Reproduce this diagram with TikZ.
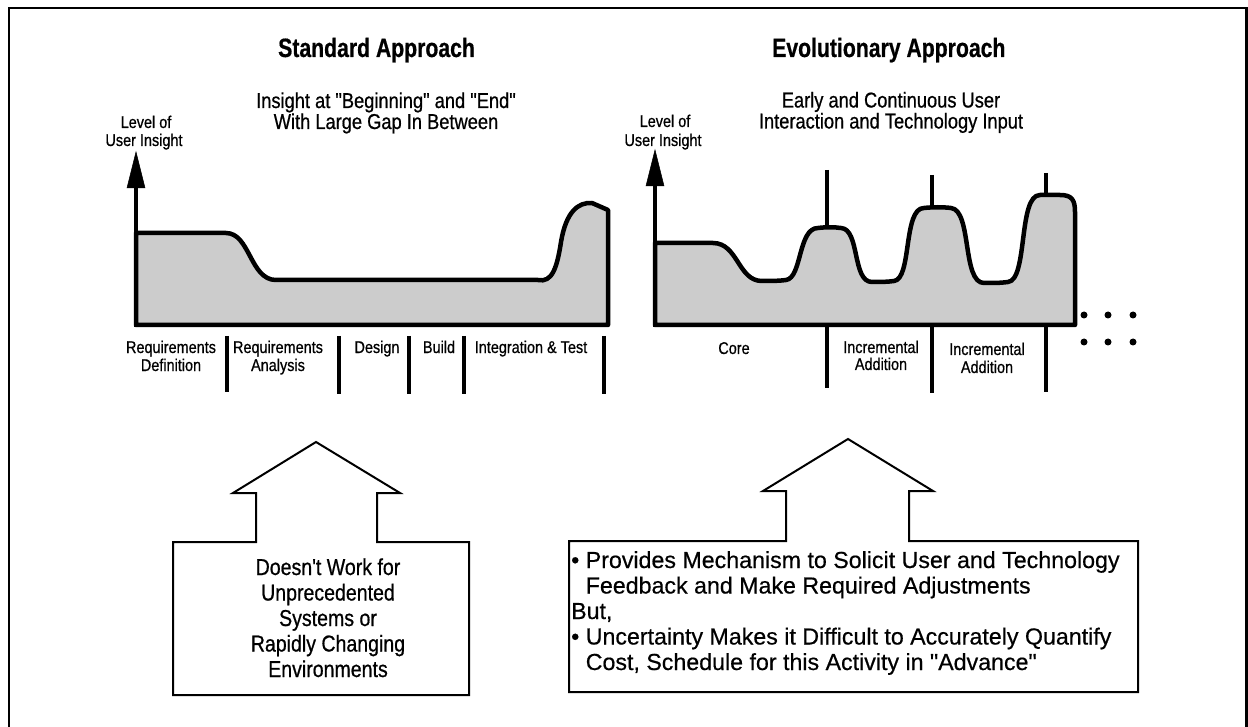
\documentclass[tikz,border=0pt]{standalone}
\usepackage{fontspec}
\setmainfont{Liberation Sans}
\newfontfamily\cnd{Liberation Sans}[FakeStretch=0.85,FakeBold=0.7]
\newfontfamily\cndb{Liberation Sans Bold}[FakeStretch=0.8,FakeBold=0.6]
\newfontfamily\reg{Liberation Sans}[FakeBold=0.5]
\begin{document}
\begin{tikzpicture}[x=1pt,y=-1pt,
  chart/.style={line width=4.5pt,fill=black!20,line join=round},
  axisline/.style={line width=3.5pt},
  arrowtip/.style={fill=black,draw=black,line width=0.5pt,line join=miter},
  divider/.style={line width=4pt},
  house/.style={line width=2pt,line join=miter},
  frameline/.style={line width=2.5pt},
  dotmark/.style={circle,fill=black,inner sep=0,minimum size=7pt},
  txtitle/.style={inner sep=0,anchor=base west,font=\cndb\fontsize{26.5}{28}\selectfont},
  txsub/.style={inner sep=0,anchor=base,font=\cnd\fontsize{21.5}{22}\selectfont},
  txsmall/.style={inner sep=0,anchor=base,font=\cnd\fontsize{17}{17}\selectfont},
  txbig/.style={inner sep=0,anchor=base,font=\cnd\fontsize{23}{25}\selectfont},
  txplain/.style={inner sep=0,anchor=base west,font=\reg\fontsize{23.2}{25}\selectfont}]
\useasboundingbox (0,0) rectangle (1248,727);
\clip (0,0) rectangle (1248,727);
% outer frame
\draw[frameline] (9,8) rectangle (1246.5,740);

% titles
\node[txtitle] (t1) at (278,57) {Standard Approach};
\node[txtitle] (t2) at (772,57) {Evolutionary Approach};
\node[txsub] (s1) at (386,108) {Insight at "Beginning" and "End"};
\node[txsub] (s2) at (386,129) {With Large Gap In Between};
\node[txsub] (s3) at (891,107.5) {Early and Continuous User};
\node[txsub] (s4) at (891,128.5) {Interaction and Technology Input};

% axis labels
\node[txsmall] (l1) at (146,128) {Level of};
\node[txsmall] (l2) at (144,146) {User Insight};
\node[txsmall] (l3) at (665,127) {Level of};
\node[txsmall] (l4) at (663,146) {User Insight};

% left chart
\draw[chart] (136,325) -- (136,233) -- (226,233)
  .. controls (250,233) and (250,280) .. (276,280) -- (538,280)
  .. controls (552,283) and (557,268) .. (561,242)
  .. controls (566,212) and (578,202) .. (592,203) -- (608,210) -- (608,325) -- cycle;
\draw[axisline] (136,327) -- (136,186);
\draw[arrowtip] (127,188) -- (136,152) -- (145,188) -- cycle;

% left dividers
\foreach \x/\b in {227/392,339/394,409/394,464/394,604/394}
  \draw[divider] (\x,336) -- (\x,\b);

% left phase labels
\node[txsmall] (p1a) at (171,353) {Requirements};
\node[txsmall] (p1b) at (171,371) {Definition};
\node[txsmall] (p2a) at (278,353) {Requirements};
\node[txsmall] (p2b) at (278,371) {Analysis};
\node[txsmall] (p3) at (377,353) {Design};
\node[txsmall] (p4) at (439,353) {Build};
\node[txsmall] (p5) at (531,353) {Integration \& Test};

% right chart
\draw[chart] (655,325) -- (655,243) -- (713,243)
  .. controls (738,243) and (738,281) .. (762,281)
  .. controls (772,281) and (778,281) .. (786,280)
  .. controls (802,278) and (798,228) .. (818,228)
  .. controls (826,227) and (834,227) .. (841,228)
  .. controls (860,229) and (852,282) .. (872,282)
  .. controls (880,282) and (887,282) .. (894,281)
  .. controls (912,279) and (903,208) .. (924,208)
  .. controls (933,207) and (943,207) .. (951,208)
  .. controls (972,210) and (962,283) .. (984,283)
  .. controls (993,283) and (1001,283) .. (1008,282)
  .. controls (1028,280) and (1018,195) .. (1040,195) -- (1060,195)
  .. controls (1072,195) and (1075,200) .. (1075,212) -- (1075,325) -- cycle;
\draw[axisline] (655,327) -- (655,184);
\draw[arrowtip] (646,186) -- (655,150) -- (664,186) -- cycle;

% peak markers and dividers
\draw[divider] (827,170) -- (827,228);
\draw[divider] (932,175) -- (932,207);
\draw[divider] (1046,173) -- (1046,195);
\draw[divider] (827,325) -- (827,388);
\draw[divider] (932,325) -- (932,393);
\draw[divider] (1046,325) -- (1046,392);

% dots
\node[dotmark] (d1) at (1084,315) {};
\node[dotmark] (d2) at (1108,315) {};
\node[dotmark] (d3) at (1133,315) {};
\node[dotmark] (d4) at (1084,342) {};
\node[dotmark] (d5) at (1108,342) {};
\node[dotmark] (d6) at (1133,342) {};

% right phase labels
\node[txsmall] (c1) at (734,354) {Core};
\node[txsmall] (c2a) at (881,353) {Incremental};
\node[txsmall] (c2b) at (881,370) {Addition};
\node[txsmall] (c3a) at (987,355) {Incremental};
\node[txsmall] (c3b) at (987,373) {Addition};

% left house arrow + box
\draw[house] (173,695) -- (173,542) -- (256,542) -- (256,493) -- (233,493) -- (316,442)
  -- (400,493) -- (377,493) -- (377,542) -- (469,542) -- (469,695) -- cycle;
\node[txbig] (b1) at (328,575) {Doesn't Work for};
\node[txbig] (b2) at (328,600.5) {Unprecedented};
\node[txbig] (b3) at (328,626) {Systems or};
\node[txbig] (b4) at (328,651.5) {Rapidly Changing};
\node[txbig] (b5) at (328,677) {Environments};

% right house arrow + box
\draw[house] (569,692) -- (569,541) -- (786,541) -- (786,491) -- (763,491) -- (848,439)
  -- (933,491) -- (909,491) -- (909,541) -- (1138,541) -- (1138,692) -- cycle;
\node[txplain] (r1) at (571,568) {• Provides Mechanism to Solicit User and Technology};
\node[txplain] (r2) at (571,593.5) {\hphantom{•} Feedback and Make Required Adjustments};
\node[txplain] (r3) at (571,619) {But,};
\node[txplain] (r4) at (571,644.5) {• Uncertainty Makes it Difficult to Accurately Quantify};
\node[txplain] (r5) at (571,670) {\hphantom{•} Cost, Schedule for this Activity in "Advance"};
\end{tikzpicture}
\end{document}
